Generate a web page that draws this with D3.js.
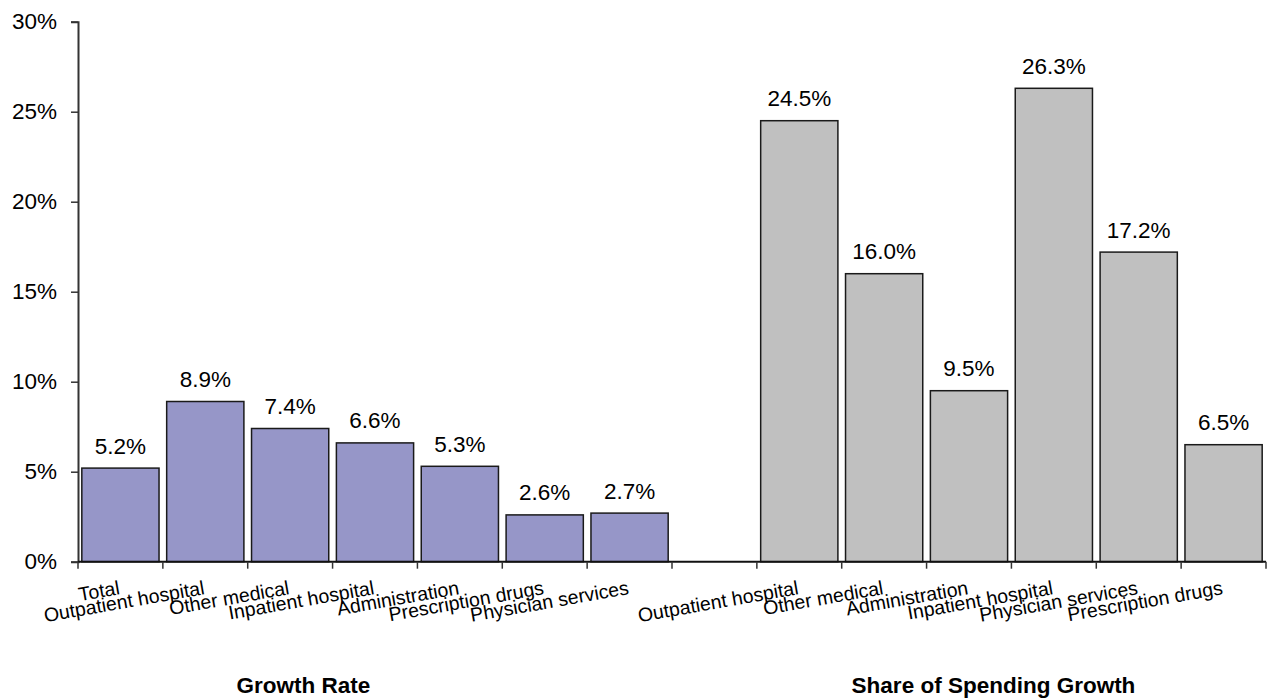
<!DOCTYPE html>
<html>
<head>
<meta charset="utf-8">
<script src="https://cdn.jsdelivr.net/npm/d3@7"></script>
<style>
  html, body { margin: 0; padding: 0; background: #fff; }
  svg { display: block; font-family: "Liberation Sans", Arial, sans-serif; }
</style>
</head>
<body>
<svg id="chart" width="1267" height="700"></svg>
<script>
// Health spending: growth rate by category, and each category's share of spending growth
const growthCategories = ["Total", "Outpatient hospital", "Other medical", "Inpatient hospital",
  "Administration", "Prescription drugs", "Physician services"];
const growthValues = [5.2, 8.9, 7.4, 6.6, 5.3, 2.6, 2.7];

const shareCategories = ["Outpatient hospital", "Other medical", "Administration",
  "Inpatient hospital", "Physician services", "Prescription drugs"];
const shareValues = [24.5, 16.0, 9.5, 26.3, 17.2, 6.5];

const yTicks = [0, 5, 10, 15, 20, 25, 30];
const groupTitles = ["Growth Rate", "Share of Spending Growth"];

// One slot per bar, with an empty slot separating the two groups
const rows = [
  ...growthCategories.map((c, i) => ({ key: "g" + i, label: c, value: growthValues[i], group: 0 })),
  { key: "gap", label: "", value: null, group: -1 },
  ...shareCategories.map((c, i) => ({ key: "s" + i, label: c, value: shareValues[i], group: 1 }))
];

const colors = ["#9696C8", "#C0C0C0"];

const svg = d3.select("#chart");
const plotLeft = 78, plotRight = 1266, plotTop = 21.7, plotBottom = 561.7;

const x = d3.scaleBand()
  .domain(rows.map(d => d.key))
  .range([plotLeft, plotRight])
  .paddingInner(0.09)
  .paddingOuter(0.045);

const y = d3.scaleLinear().domain([0, 30]).range([plotBottom, plotTop]);

const step = x.step();
const slotStart = k => x(k) - x.paddingOuter() * step;

// Bars
const data = rows.filter(d => d.value !== null);
svg.append("g").selectAll("rect")
  .data(data)
  .join("rect")
  .attr("x", d => x(d.key))
  .attr("y", d => y(d.value))
  .attr("width", x.bandwidth())
  .attr("height", d => y(0) - y(d.value))
  .attr("fill", d => colors[d.group])
  .attr("stroke", "#1a1a1a")
  .attr("stroke-width", 1.5);

// Value labels
svg.append("g").selectAll("text")
  .data(data)
  .join("text")
  .attr("x", d => x(d.key) + x.bandwidth() / 2)
  .attr("y", d => y(d.value) - 14.5)
  .attr("text-anchor", "middle")
  .attr("font-size", 22.5)
  .attr("fill", "#000")
  .text(d => d.value.toFixed(1) + "%");

// Y axis
const yAxis = d3.axisLeft(y)
  .tickValues(yTicks)
  .tickSize(7)
  .tickPadding(14)
  .tickFormat(d => d + "%");
const gy = svg.append("g").attr("transform", `translate(${plotLeft},0)`).call(yAxis);
gy.select(".domain").attr("stroke", "#333").attr("stroke-width", 2);
gy.selectAll(".tick line").attr("stroke", "#333").attr("stroke-width", 1.5);
gy.selectAll(".tick text")
  .attr("font-size", 22.5)
  .attr("font-family", "Liberation Sans, Arial, sans-serif")
  .attr("fill", "#000");

// X axis line with ticks at slot boundaries
const bounds = d3.range(rows.length + 1).map(i => plotLeft + i * step);
const gx = svg.append("g");
gx.append("line")
  .attr("x1", plotLeft).attr("x2", plotRight)
  .attr("y1", plotBottom).attr("y2", plotBottom)
  .attr("stroke", "#111").attr("stroke-width", 2);
gx.selectAll("line.tick")
  .data(bounds)
  .join("line")
  .attr("class", "tick")
  .attr("x1", d => d).attr("x2", d => d)
  .attr("y1", plotBottom).attr("y2", plotBottom + 7)
  .attr("stroke", "#333").attr("stroke-width", 1.5);

// Slanted category labels, anchored at the end under each slot centre
gx.selectAll("text")
  .data(rows.filter(d => d.label))
  .join("text")
  .attr("transform", d => `translate(${slotStart(d.key) + step / 2},594) rotate(-10)`)
  .attr("text-anchor", "end")
  .attr("font-size", 19.5)
  .attr("fill", "#000")
  .text(d => d.label);

// Group titles
const titlePos = [303.5, 993.5];
svg.append("g").selectAll("text")
  .data(groupTitles)
  .join("text")
  .attr("x", (d, i) => titlePos[i])
  .attr("y", 693)
  .attr("text-anchor", "middle")
  .attr("font-size", 22.5)
  .attr("font-weight", "bold")
  .attr("fill", "#000")
  .text(d => d);
</script>
</body>
</html>
